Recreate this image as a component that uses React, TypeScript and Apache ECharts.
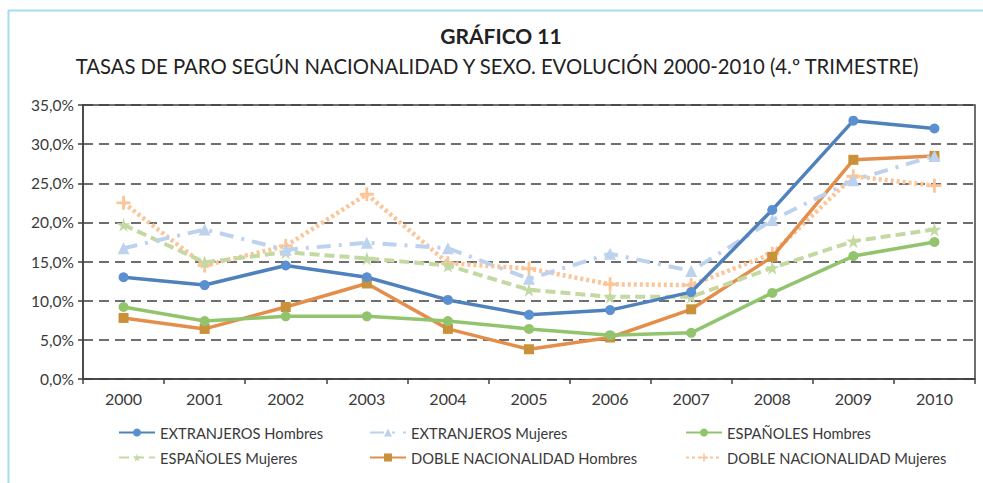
import React, { useEffect, useRef } from "react";
import * as echarts from "echarts";

const years = ["2000", "2001", "2002", "2003", "2004", "2005", "2006", "2007", "2008", "2009", "2010"];
const extranjerosHombres = [13.0, 12.0, 14.5, 13.0, 10.1, 8.2, 8.8, 11.1, 21.6, 33.0, 32.0];
const extranjerosMujeres = [16.7, 19.1, 16.5, 17.4, 16.7, 12.8, 16.0, 13.8, 20.3, 25.4, 28.5];
const espanolesHombres = [9.2, 7.4, 8.0, 8.0, 7.4, 6.4, 5.6, 5.9, 11.0, 15.7, 17.5];
const espanolesMujeres = [19.7, 14.9, 16.2, 15.4, 14.5, 11.4, 10.5, 10.5, 14.2, 17.6, 19.1];
const dobleHombres = [7.8, 6.4, 9.2, 12.2, 6.4, 3.8, 5.3, 8.9, 15.6, 28.0, 28.5];
const dobleMujeres = [22.5, 14.5, 17.0, 23.6, 14.8, 14.1, 12.1, 12.0, 16.0, 25.9, 24.7];

const names = [
  "EXTRANJEROS Hombres",
  "EXTRANJEROS Mujeres",
  "ESPAÑOLES Hombres",
  "ESPAÑOLES Mujeres",
  "DOBLE NACIONALIDAD Hombres",
  "DOBLE NACIONALIDAD Mujeres",
];

const FONT = "Lato, 'Open Sans', sans-serif";
const TXT = "#3a3a3a";
const STAR = "path://M50,0 L61,35 L98,35 L68,57 L79,91 L50,70 L21,91 L32,57 L2,35 L39,35 Z";
const PLUS = "path://M4,0 H6 V4 H10 V6 H6 V10 H4 V6 H0 V4 H4 Z";

export default function App() {
  const ref = useRef<HTMLDivElement>(null);
  useEffect(() => {
    if (!ref.current) return;
    const chart = echarts.init(ref.current, null, { renderer: "svg" });
    const legendPos = [
      [118, 425],
      [369, 425],
      [685, 425],
      [118, 450],
      [369, 450],
      [685, 450],
    ];
    const mk = (
      i: number,
      data: number[],
      color: string,
      symbol: string,
      symbolSize: number,
      type: any,
      width: number,
      markerColor?: string
    ) => ({
      name: names[i],
      type: "line",
      data,
      symbol,
      symbolSize,
      showSymbol: true,
      lineStyle: { color, width, type },
      itemStyle: { color: markerColor || color, borderWidth: 0 },
      z: 2 + (5 - i),
    });
    chart.setOption({
      animation: false,
      backgroundColor: "#ffffff",
      textStyle: { fontFamily: FONT },
      graphic: [
        {
          type: "line",
          shape: { x1: 8, y1: 10.5, x2: 983, y2: 10.5 },
          style: { stroke: "#a6dcef", lineWidth: 2 },
        },
        {
          type: "line",
          shape: { x1: 8.5, y1: 10, x2: 8.5, y2: 483 },
          style: { stroke: "#a6dcef", lineWidth: 2 },
        },
        {
          type: "text",
          x: 501,
          y: 35,
          style: {
            text: "GRÁFICO 11",
            fontFamily: FONT,
            fontSize: 21,
            fontWeight: "bold",
            fill: "#222",
            align: "center",
            verticalAlign: "middle",
          },
        },
        {
          type: "text",
          x: 497,
          y: 66,
          style: {
            text: "TASAS DE PARO SEGÚN NACIONALIDAD Y SEXO. EVOLUCIÓN 2000-2010 (4.º TRIMESTRE)",
            fontFamily: FONT,
            fontSize: 20.3,
            fill: "#222",
            align: "center",
            verticalAlign: "middle",
          },
        },
      ],
      legend: legendPos.map((p, i) => ({
        data: [names[i]],
        left: p[0],
        top: p[1],
        itemWidth: 36,
        itemHeight: 10,
        padding: 0,
        textStyle: { fontFamily: FONT, fontSize: 14.7, color: TXT },
      })),
      grid: {
        left: 83,
        right: 8,
        top: 105,
        bottom: 104,
        show: true,
        borderColor: "#404040",
        borderWidth: 1.5,
        backgroundColor: "transparent",
      },
      xAxis: {
        type: "category",
        data: years,
        boundaryGap: true,
        axisLine: { lineStyle: { color: "#404040", width: 1.5 } },
        axisTick: { show: true, length: 5, lineStyle: { color: "#404040", width: 1.5 } },
        axisLabel: { fontFamily: FONT, fontSize: 16, color: TXT, margin: 11 },
      },
      yAxis: {
        type: "value",
        min: 0,
        max: 35,
        interval: 5,
        axisLine: { show: true, lineStyle: { color: "#404040", width: 1.5 } },
        axisTick: { show: true, length: 5, lineStyle: { color: "#404040", width: 1.5 } },
        axisLabel: {
          fontFamily: FONT,
          fontSize: 15.5,
          color: TXT,
          margin: 9,
          formatter: (v: number) => v.toFixed(1).replace(".", ",") + "%",
        },
        splitLine: { lineStyle: { color: "#404040", width: 1.5, type: [10, 6] } },
      },
      series: [
        mk(0, extranjerosHombres, "#4f81bd", "circle", 10, "solid", 3.5, "#5a8fd0"),
        mk(1, extranjerosMujeres, "#bcd2ef", "triangle", 12, [14, 8, 3, 8], 4),
        mk(2, espanolesHombres, "#92c46e", "circle", 10, "solid", 3.5),
        mk(3, espanolesMujeres, "#c4d9a1", STAR, 14, [10, 5], 4),
        mk(4, dobleHombres, "#e38e4a", "rect", 10, "solid", 3.5, "#c9913a"),
        mk(5, dobleMujeres, "#fbc597", PLUS, 14, [3, 3], 4.5),
      ],
    });
    return () => chart.dispose();
  }, []);
  return (
    <div
      ref={ref}
      style={{ position: "fixed", left: 0, top: 0, width: 983, height: 483 }}
    />
  );
}
